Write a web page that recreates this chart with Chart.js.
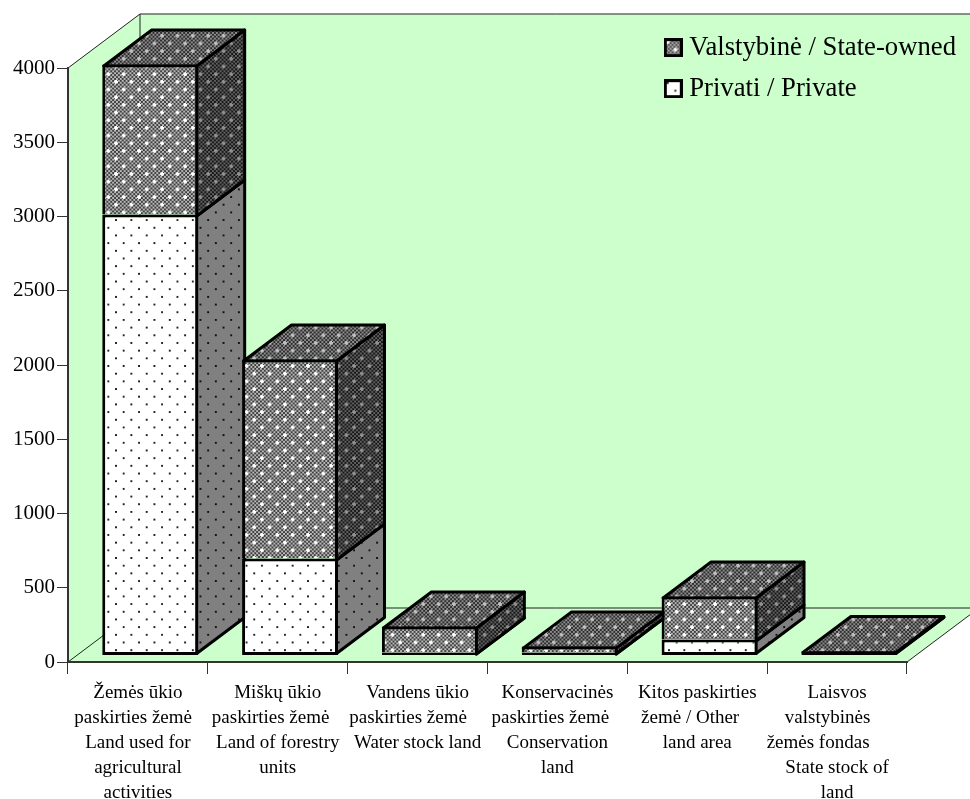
<!DOCTYPE html>
<html>
<head>
<meta charset="utf-8">
<title>Land area by purpose</title>
<script src="https://cdn.jsdelivr.net/npm/chart.js@4"></script>
<style>
html, body { margin: 0; padding: 0; background: #fff; }
canvas { display: block; }
</style>
</head>
<body>
<canvas id="landChart" width="970" height="799"></canvas>
<script>
// Chart data
const categories = [
    ['Žemės ūkio', 'paskirties žemė  ', 'Land used for', 'agricultural', 'activities'],
    ['Miškų ūkio', 'paskirties žemė   ', 'Land of forestry', 'units'],
    ['Vandens ūkio', 'paskirties žemė    ', 'Water stock land'],
    ['Konservacinės', 'paskirties žemė   ', 'Conservation', 'land'],
    ['Kitos paskirties', 'žemė / Other   ', 'land area'],
    ['Laisvos', 'valstybinės    ', 'žemės fondas        ', 'State stock of', 'land']
];
const privateValues = [2970, 653, 20, 20, 108, 25];
const stateValues = [1010, 1340, 175, 40, 289, 5];
const seriesNames = ['Privati / Private', 'Valstybinė / State-owned'];
const axisMax = 4000;
const axisStep = 500;

// Fake 3D settings
const wallDepth = { x: 72, y: 54 };
const barDepth = { x: 48, y: 36 };
const barShift = { x: 12.3, y: -6.5 };
const wallColor = '#ccffcc';
const serif = '"Liberation Serif", "Times New Roman", serif';

// Small repeating tile: optional 2px checker with staggered dots
function makePattern(colorA, colorB, dotColor, star) {
    const tile = document.createElement('canvas');
    tile.width = 16;
    tile.height = 16;
    const c = tile.getContext('2d');
    c.fillStyle = colorA;
    c.fillRect(0, 0, 16, 16);
    if (colorB) {
        c.fillStyle = colorB;
        for (let y = 0; y < 16; y += 2) {
            for (let x = y % 4 === 0 ? 0 : 2; x < 16; x += 4) {
                c.fillRect(x, y, 2, 2);
            }
        }
    }
    c.fillStyle = dotColor;
    [[3, 3], [11, 11]].forEach(([x, y]) => {
        if (star) {
            c.fillRect(x - 1, y, 4, 2);
            c.fillRect(x, y - 1, 2, 4);
        } else {
            c.fillRect(x, y, 2, 2);
        }
    });
    const pattern = c.createPattern(tile, 'repeat');
    pattern.setTransform(new DOMMatrix().scale(0.96));
    return pattern;
}

const patterns = {
    stateFront: makePattern('#404040', '#b8b8b8', '#ffffff', true),
    stateTop: makePattern('#2c2c2c', '#8c8c8c', '#c0c0c0', true),
    stateSide: makePattern('#181818', '#606060', '#909090', true),
    privateFront: makePattern('#ffffff', null, '#222222', false),
    privateSide: makePattern('#808080', null, '#111111', false)
};

// Legend swatches are drawn on a little canvas so the gap to the text can be set
function makeSwatch(fill) {
    const s = document.createElement('canvas');
    s.width = 19;
    s.height = 19;
    const c = s.getContext('2d');
    c.fillStyle = fill;
    c.fillRect(1.5, 1.5, 16, 16);
    c.lineWidth = 3;
    c.strokeStyle = '#000';
    c.strokeRect(1.5, 1.5, 16, 16);
    return s;
}

function face(ctx, points, fill) {
    ctx.beginPath();
    points.forEach((p, i) => i === 0 ? ctx.moveTo(p[0], p[1]) : ctx.lineTo(p[0], p[1]));
    ctx.closePath();
    ctx.fillStyle = fill;
    ctx.fill();
    ctx.stroke();
}

// Green walls and floor behind the bars
const wallsPlugin = {
    id: 'walls',
    beforeDraw(chart) {
        const { ctx, scales: { x, y } } = chart;
        const left = x.left, right = x.right, top = y.top, bottom = y.bottom;
        const dx = wallDepth.x, dy = wallDepth.y;
        ctx.save();
        ctx.fillStyle = wallColor;
        ctx.strokeStyle = '#222';
        ctx.lineWidth = 1;
        ctx.beginPath();
        ctx.moveTo(left, bottom);
        ctx.lineTo(left, top);
        ctx.lineTo(left + dx, top - dy);
        ctx.lineTo(right + dx, top - dy);
        ctx.lineTo(right + dx, bottom - dy);
        ctx.lineTo(right, bottom);
        ctx.closePath();
        ctx.fill();
        ctx.beginPath();
        ctx.moveTo(left, top);
        ctx.lineTo(left + dx, top - dy);
        ctx.lineTo(right + dx, top - dy);
        ctx.moveTo(left + dx, top - dy);
        ctx.lineTo(left + dx, bottom - dy);
        ctx.lineTo(right + dx, bottom - dy);
        ctx.lineTo(right, bottom);
        ctx.moveTo(left + dx, bottom - dy);
        ctx.lineTo(left, bottom);
        ctx.stroke();
        ctx.restore();
    }
};

// Side and top faces, taken from the bar elements. Chart.js then paints the fronts.
const depthPlugin = {
    id: 'barDepth',
    beforeDatasetsDraw(chart) {
        const { ctx } = chart;
        const privateBars = chart.getDatasetMeta(0).data;
        const stateBars = chart.getDatasetMeta(1).data;
        ctx.save();
        ctx.translate(barShift.x, barShift.y);
        ctx.lineWidth = 3;
        ctx.lineJoin = 'round';
        ctx.strokeStyle = '#000';
        privateBars.forEach((bar, i) => {
            const x2 = bar.x + bar.width / 2 - 1.5;
            const x1 = bar.x - bar.width / 2 + 1.5;
            const base = bar.base - 1.5;
            const mid = bar.y + 1.5;
            const top = stateBars[i].y + 1.5;
            const dx = barDepth.x, dy = barDepth.y;
            face(ctx, [[x2, base], [x2 + dx, base - dy], [x2 + dx, mid - dy], [x2, mid]], patterns.privateSide);
            face(ctx, [[x2, mid], [x2 + dx, mid - dy], [x2 + dx, top - dy], [x2, top]], patterns.stateSide);
            face(ctx, [[x1, top], [x2, top], [x2 + dx, top - dy], [x1 + dx, top - dy]], patterns.stateTop);
        });
        ctx.restore();
    },
    beforeDatasetDraw(chart) {
        chart.ctx.save();
        chart.ctx.translate(barShift.x, barShift.y);
    },
    afterDatasetDraw(chart) {
        chart.ctx.restore();
    },
    afterLayout(chart) {
        // legend sits inside the back wall, top right
        const legend = chart.legend;
        const w = legend.width, h = legend.height;
        legend.left = 656.5;
        legend.top = 20;
        legend.right = legend.left + w;
        legend.bottom = legend.top + h;
    }
};

new Chart(document.getElementById('landChart'), {
    type: 'bar',
    data: {
        labels: categories,
        datasets: [
            {
                label: seriesNames[0],
                data: privateValues,
                backgroundColor: patterns.privateFront,
                borderColor: '#000',
                borderWidth: 3,
                borderSkipped: false,
                pointStyle: makeSwatch(patterns.privateFront)
            },
            {
                label: seriesNames[1],
                data: stateValues,
                backgroundColor: patterns.stateFront,
                borderColor: '#000',
                borderWidth: { top: 3, left: 3, right: 3, bottom: 0 },
                borderSkipped: false,
                pointStyle: makeSwatch(patterns.stateFront)
            }
        ]
    },
    options: {
        responsive: false,
        animation: false,
        layout: { padding: { left: 0, top: 68, right: 63, bottom: 0 } },
        datasets: { bar: { barPercentage: 0.686, categoryPercentage: 1 } },
        scales: {
            x: {
                stacked: true,
                afterFit(scale) {
                    scale.height = 137;
                    scale.paddingLeft = 0;
                    scale.paddingRight = 0;
                },
                grid: { drawOnChartArea: false, drawTicks: true, tickLength: 12, color: '#333', lineWidth: 1 },
                border: { display: true, color: '#333', width: 2 },
                ticks: {
                    autoSkip: false,
                    maxRotation: 0,
                    minRotation: 0,
                    padding: 7,
                    color: '#000',
                    font: { family: serif, size: 19, lineHeight: 25 / 19 }
                }
            },
            y: {
                stacked: true,
                min: 0,
                max: axisMax,
                afterFit(scale) {
                    scale.width = 68;
                    scale.paddingTop = 0;
                    scale.paddingBottom = 0;
                },
                grid: { drawOnChartArea: false, drawTicks: true, tickLength: 11, color: '#333', lineWidth: 1 },
                border: { display: true, color: '#333', width: 2 },
                ticks: {
                    stepSize: axisStep,
                    padding: 2,
                    color: '#000',
                    font: { family: serif, size: 21 },
                    callback: value => String(value)
                }
            }
        },
        plugins: {
            tooltip: { enabled: false },
            legend: {
                position: 'chartArea',
                align: 'start',
                reverse: true,
                labels: {
                    usePointStyle: true,
                    pointStyleWidth: 5,
                    padding: 14.3,
                    color: '#000',
                    font: { family: serif, size: 26.7 }
                }
            }
        }
    },
    plugins: [wallsPlugin, depthPlugin]
});
</script>
</body>
</html>
